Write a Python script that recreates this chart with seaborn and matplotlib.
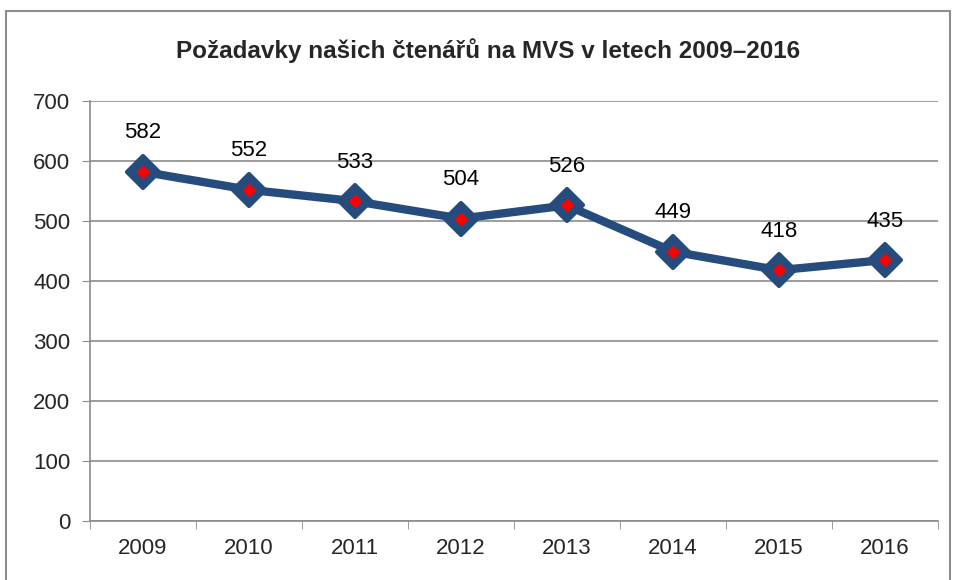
import pandas as pd
import matplotlib.pyplot as plt
import seaborn as sns
from matplotlib.markers import MarkerStyle
from matplotlib.patches import Rectangle

years = ["2009", "2010", "2011", "2012", "2013", "2014", "2015", "2016"]
requests = [582, 552, 533, 504, 526, 449, 418, 435]

df = pd.DataFrame({"year": years, "requests": requests})
df["pos"] = range(len(df))

sns.set_style("white")
plt.rcParams["font.family"] = ["Liberation Sans", "DejaVu Sans"]

fig = plt.figure(figsize=(9.56, 5.8), dpi=100)
ax = fig.add_axes([0.094, 0.1017, 0.887, 0.7242])

blue = "#264b7d"
grid = "#8c8c8c"

# outer dark-blue diamonds on the line, small red diamonds on top
sns.lineplot(data=df, x="pos", y="requests", ax=ax, color=blue, linewidth=6,
             marker=MarkerStyle("D", joinstyle="round"), markersize=16,
             markerfacecolor=blue, markeredgecolor=blue, markeredgewidth=3, zorder=3)
sns.scatterplot(data=df, x="pos", y="requests", ax=ax, color="#ff0000", marker="D",
                s=50, linewidth=0, zorder=4)

for x, y in zip(df["pos"], df["requests"]):
    ax.annotate(str(y), (x, y), xytext=(0, 28), textcoords="offset points",
                ha="center", va="center", fontsize=16, color="black")

ax.set_xlim(-0.5, len(years) - 0.5)
ax.set_ylim(0, 700)
ax.set_yticks(range(0, 701, 100))
ax.set_xticks(range(len(years)))
ax.set_xticklabels(years)
ax.set_xticks([i - 0.5 for i in range(len(years) + 1)], minor=True)
ax.set_xlabel("")
ax.set_ylabel("")

ax.yaxis.grid(True, color=grid, linewidth=1.2)
ax.set_axisbelow(True)
for side in ["top", "right"]:
    ax.spines[side].set_visible(False)
for side in ["left", "bottom"]:
    ax.spines[side].set_color(grid)
    ax.spines[side].set_linewidth(1.2)

ax.tick_params(axis="y", which="major", length=6, color=grid, labelsize=16, pad=8, left=True)
ax.tick_params(axis="x", which="major", length=0, labelsize=16, pad=12)
ax.tick_params(axis="x", which="minor", length=6, color=grid, bottom=True)

fig.text(0.511, 0.912, "Požadavky našich čtenářů na MVS v letech 2009–2016",
         ha="center", va="center", fontsize=17.5, fontweight="bold")

fig.patches.append(Rectangle((0.006, -0.05), 0.988, 1.031, transform=fig.transFigure,
                             fill=False, edgecolor="#8c8c8c", linewidth=1.5))

fig.savefig("out.png", dpi=100)
plt.close(fig)
